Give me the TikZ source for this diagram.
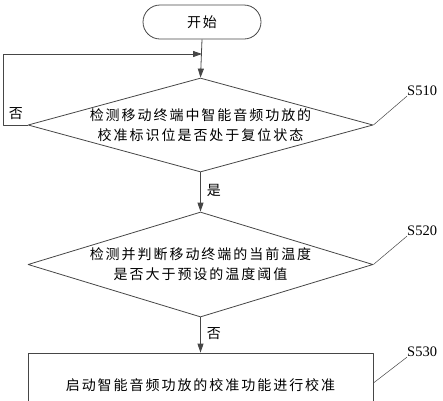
\documentclass[tikz,border=0pt]{standalone}
\usepackage{fontspec}
\setmainfont{Liberation Serif}
\newfontfamily\cjk[LetterSpace=14]{Noto Sans CJK SC}
\usetikzlibrary{shapes.geometric,arrows.meta}
\definecolor{edgegray}{RGB}{70,70,70}

\begin{document}
\begin{tikzpicture}[x=1pt,y=-1pt,line join=round,
  flow/.style={-{Triangle[length=9pt,width=6pt]},draw=edgegray,line width=0.8pt},
  terminal/.style={rectangle,rounded corners=17pt,draw=edgegray,line width=0.8pt,minimum width=118pt,minimum height=34pt,inner sep=0pt},
  decision/.style={diamond,draw=edgegray,line width=0.8pt,inner sep=0pt,minimum width=345pt},
  process/.style={rectangle,draw=edgegray,line width=0.8pt,inner sep=0pt},
  txt/.style={font=\cjk\fontsize{14}{20}\selectfont,align=center,inner sep=0pt},
  steplabel/.style={font=\fontsize{14.5}{16}\selectfont,anchor=west,inner sep=0pt},
  leader/.style={draw=edgegray,line width=0.5pt}]
  \useasboundingbox (0,0) rectangle (443,400);
  % blocks, top to bottom
  \node[terminal] (start) at (202,22) {};
  \node[txt] (starttxt) at (start.center) {开始};
  \node[decision,minimum height=94pt] (dia1) at (200.5,125) {};
  \node[txt] (dia1txt) at (dia1.center) {检测移动终端中智能音频功放的\\校准标识位是否处于复位状态};
  \node[decision,minimum height=105pt] (dia2) at (200.5,264.5) {};
  \node[txt] (dia2txt) at (dia2.center) {检测并判断移动终端的当前温度\\是否大于预设的温度阈值};
  \node[process,minimum width=345pt,minimum height=70pt] (box) at (200.5,388) {};
  \node[txt] (boxtxt) at (200.5,385) {启动智能音频功放的校准功能进行校准};
  % connectors
  \coordinate (loopin) at (202,54);
  \coordinate (loopl) at (3,54);
  \coordinate (loopb) at (3,125);
  \draw[flow] (start.south) -- (dia1.north);
  \draw[flow] (dia1.west) -- (loopb) -- (loopl) -- (loopin);
  \draw[flow] (dia1.south) -- node[txt,right=6pt,pos=0.45] (yes1) {是} (dia2.north);
  \draw[flow] (dia2.south) -- node[txt,right=6pt,pos=0.45] (no2) {否} (box.north);
  \node[txt] (no1) at (16,114) {否};
  % step labels
  \node[steplabel] (s510) at (407,91) {S510};
  \node[steplabel] (s520) at (407,231) {S520};
  \node[steplabel] (s530) at (407,352) {S530};
  \draw[leader] (dia1.east) -- (s510.south west);
  \draw[leader] (dia2.east) -- (s520.south west);
  \draw[leader] (box.east |- 0,383) -- (s530.south west);
\end{tikzpicture}
\end{document}
